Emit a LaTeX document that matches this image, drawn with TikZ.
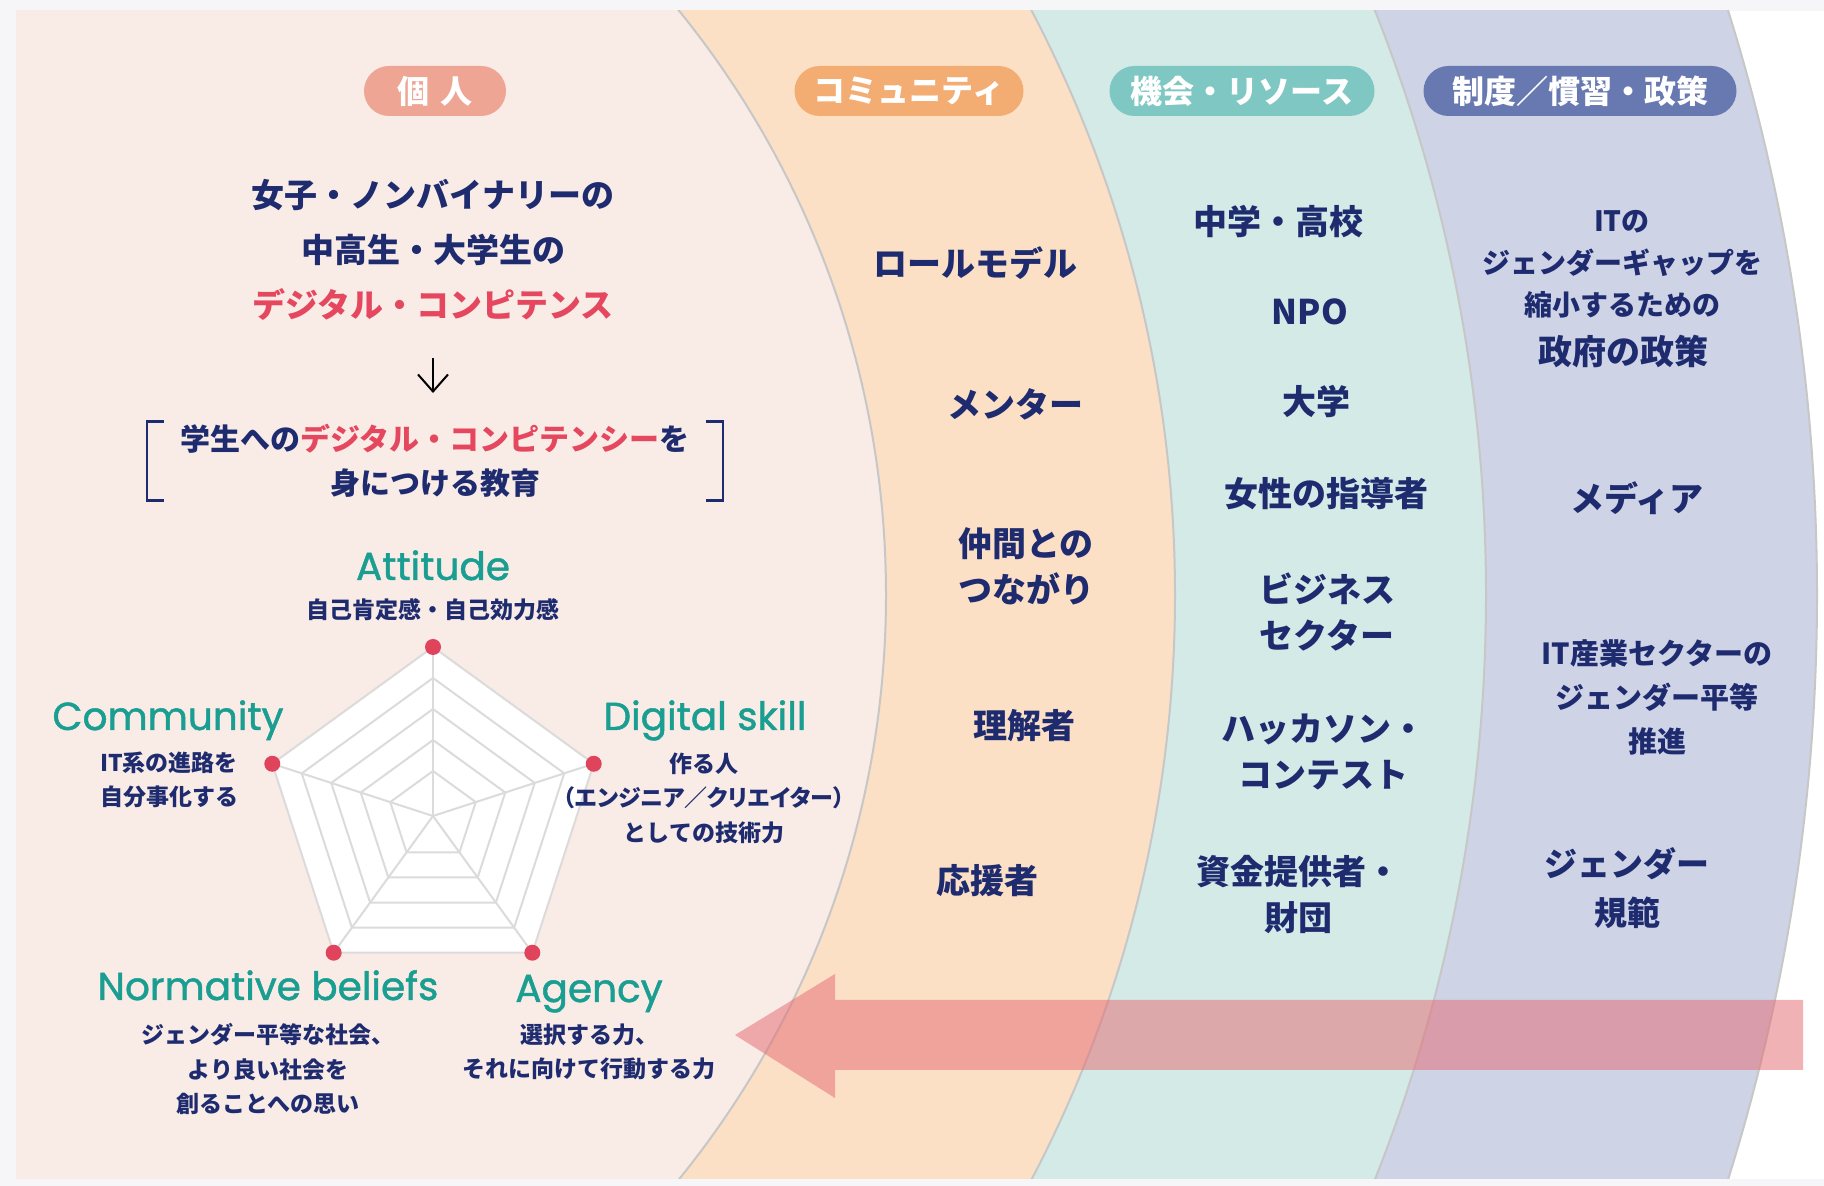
\documentclass[tikz,border=0pt]{standalone}
\usepackage{fontspec}
\setmainfont{Noto Sans CJK JP}
\newfontfamily\paltfont{Noto Sans CJK JP}[RawFeature=+palt]
\newfontfamily\latinfont{Poppins}[FakeBold=1.2]
\usepackage{tikz}
\usetikzlibrary{arrows.meta}

\definecolor{navy}{HTML}{1E2B6F}
\definecolor{accent}{HTML}{E5485E}
\definecolor{tealtxt}{HTML}{199E91}
\definecolor{dotred}{HTML}{E0445C}
\definecolor{frame}{HTML}{F6F6F9}
\definecolor{bandA}{HTML}{F9EBE6}
\definecolor{bandB}{HTML}{FBE0C6}
\definecolor{bandC}{HTML}{D3EAE6}
\definecolor{bandD}{HTML}{CED3E6}
\definecolor{badgeA}{HTML}{EFA593}
\definecolor{badgeB}{HTML}{F3AD72}
\definecolor{badgeC}{HTML}{7FC7C2}
\definecolor{badgeD}{HTML}{6779B0}
\definecolor{arrowred}{RGB}{229,103,111}

\begin{document}
\begin{tikzpicture}[x=1pt,y=1pt,
  badge/.style={rounded corners=25pt, minimum height=50, inner sep=0pt, text=white,
    font=\bfseries\fontsize{32}{32}\selectfont},
  item/.style={text=navy, align=center, inner sep=0pt, font=\bfseries\fontsize{34}{46}\selectfont},
  polsmall/.style={item, font=\bfseries\fontsize{28}{42}\selectfont},
  note/.style={item, font=\bfseries\fontsize{23}{34.5}\selectfont},
  axlabel/.style={text=tealtxt, inner sep=0pt, anchor=base, font=\latinfont\fontsize{39}{39}\selectfont},
  webline/.style={draw=black!14, line width=2pt, line join=round},
  redpt/.style={circle, fill=dotred, inner sep=0pt, minimum size=16},
  rim/.style={draw=black!22, line width=2pt},
  bracket/.style={draw=navy, line width=2.5pt},
]
\useasboundingbox (0,0) rectangle (1824,1186);
\fill[frame] (0,0) rectangle (1824,1186);

% the four bands
\begin{scope}
  \clip (16,7) rectangle (1824,1175);
  \fill[white] (16,7) rectangle (1824,1175);
  \fill[bandD] (-137,591) circle (1954);
  \fill[bandC] (-101,591) circle (1587);
  \fill[bandB] (-85,591) circle (1260);
  \fill[bandA] (-42,591) circle (928);
  \foreach \cx/\r in {-137/1954,-101/1587,-85/1260,-42/928}
    \draw[rim] (\cx,591) circle (\r);
\end{scope}

% headers
\node[badge, fill=badgeA, minimum width=142] (b-ind) at (435,1095) {個\hspace{0.35em}人};
\node[badge, fill=badgeB, minimum width=229] (b-com) at (909,1095) {コミュニティ};
\node[badge, fill=badgeC, minimum width=265] (b-res) at (1242,1095) {機会・リソース};
\node[badge, fill=badgeD, minimum width=313] (b-pol) at (1580,1095) {制度／慣習・政策};

% individual
\node[item, font=\bfseries\fontsize{33}{55}\selectfont] (title) at (433,936)
  {女子・ノンバイナリーの\\中高生・大学生の\\\textcolor{accent}{デジタル・コンピテンス}};
\coordinate (dnA) at (433,828);
\coordinate (dnB) at (433,793);
\draw[line width=2pt, -{Straight Barb[length=17pt,width=30pt]}] (dnA) -- (dnB);
\node[item, font=\bfseries\fontsize{30}{44}\selectfont, minimum width=576, minimum height=79] (edu) at (435,725)
  {学生への\textcolor{accent}{デジタル・コンピテンシー}を\\身につける教育};
\draw[bracket] ([xshift=17]edu.north west) -| (edu.south west) -- ++(17,0);
\draw[bracket] ([xshift=-17]edu.north east) -| (edu.south east) -- ++(-17,0);

% radar
\begin{scope}[shift={(433,370)}]
  \fill[white] (90:169) -- (18:169) -- (-54:169) -- (-126:169) -- (162:169) -- cycle;
  \foreach \r in {45,76,107,138,169}
    \draw[webline] (90:\r) -- (18:\r) -- (-54:\r) -- (-126:\r) -- (162:\r) -- cycle;
  \foreach \a in {90,18,-54,-126,162}
    \draw[webline] (0,0) -- (\a:169);
  \foreach \a/\n in {90/att,18/dig,-54/age,-126/nor,162/com}
    \node[redpt] (pt-\n) at (\a:169) {};
\end{scope}

\node[axlabel] (att) at (433,606) {Attitude};
\node[note] (att-t) at (433,576) {自己肯定感・自己効力感};
\node[axlabel] (com) at (168,456) {Community};
\node[note] (com-t) at (169,406) {IT系の進路を\\自分事化する};
\node[axlabel] (dig) at (705,456) {Digital skill};
\node[note] (dig-t) at (704,388) {作る人\\{\paltfont\bfseries （エンジニア／クリエイター）}\\としての技術力};
\node[axlabel] (nor) at (268,186) {Normative beliefs};
\node[note] (nor-t) at (268,117) {ジェンダー平等な社会、\\より良い社会を\\創ることへの思い};
\node[axlabel] (age) at (589,184) {Agency};
\node[note] (age-t) at (589,134) {選択する力、\\それに向けて行動する力};

% community
\foreach \x/\y/\t [count=\i] in {975/923/ロールモデル, 1015/782/メンター,
    1026/620/{仲間との\\つながり}, 1024/460/理解者, 987/305/応援者}
  \node[item] (comm\i) at (\x,\y) {\t};

% opportunities and resources
\foreach \x/\y/\t [count=\i] in {1278/964/中学・高校, 1310/874/NPO, 1316/784/大学,
    1326/692/女性の指導者, 1327/574/{ビジネス\\セクター},
    1323/434/{ハッカソン・\\コンテスト}, 1298/291/{資金提供者・\\財団}}
  \node[item] (res\i) at (\x,\y) {\t};

% policy
\node[polsmall] (pol1) at (1622,922) {ITの\\ジェンダーギャップを\\縮小するための};
\node[item] (pol2) at (1623,834) {政府の政策};
\node[item] (pol3) at (1637,688) {メディア};
\node[polsmall, font=\bfseries\fontsize{29}{44}\selectfont] (pol4) at (1657,489) {IT産業セクターの\\ジェンダー平等\\推進};
\node[item, font=\bfseries\fontsize{33}{49}\selectfont] (pol5) at (1627,298) {ジェンダー\\規範};

% big arrow
\fill[arrowred, fill opacity=0.5] (735,151) -- (835,212) -- (835,186) -- (1803,186)
  -- (1803,116) -- (835,116) -- (835,88) -- cycle;
\end{tikzpicture}
\end{document}
